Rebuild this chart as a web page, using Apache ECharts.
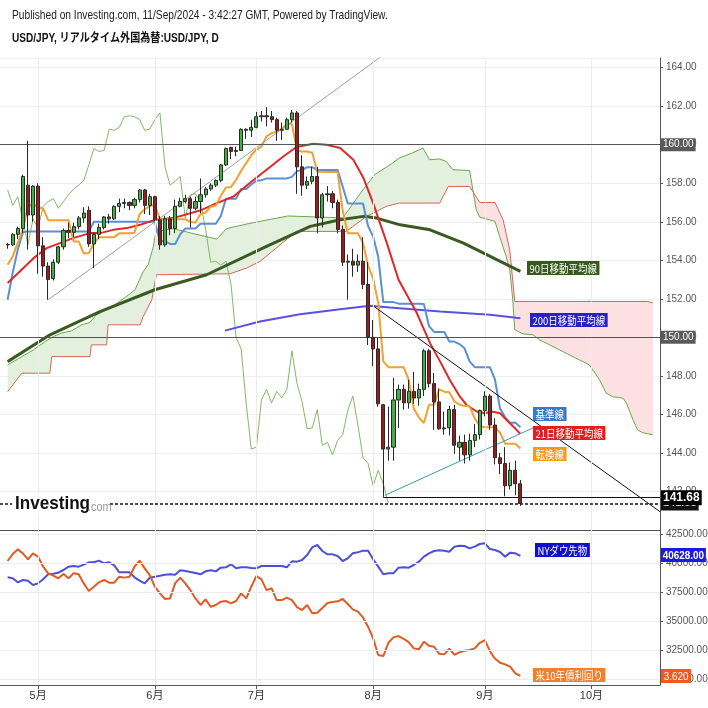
<!DOCTYPE html>
<html><head><meta charset="utf-8">
<script src="https://cdn.jsdelivr.net/npm/echarts/dist/echarts.min.js"></script>
<style>html,body{margin:0;padding:0;background:#fff}#c{width:708px;height:708px}</style>
</head><body><div id="c"></div>
<script>
// ---- categories (trading days, index k = 1..102) ----
const dates = ['04/23','04/24','04/25','04/26','04/29','04/30',
'05/01','05/02','05/03','05/06','05/07','05/08','05/09','05/10','05/13','05/14','05/15','05/16','05/17','05/20','05/21','05/22','05/23','05/24','05/27','05/28','05/29','05/30','05/31',
'06/03','06/04','06/05','06/06','06/07','06/10','06/11','06/12','06/13','06/14','06/17','06/18','06/19','06/20','06/21','06/24','06/25','06/26','06/27','06/28',
'07/01','07/02','07/03','07/04','07/05','07/08','07/09','07/10','07/11','07/12','07/15','07/16','07/17','07/18','07/19','07/22','07/23','07/24','07/25','07/26','07/29','07/30','07/31',
'08/01','08/02','08/05','08/06','08/07','08/08','08/09','08/12','08/13','08/14','08/15','08/16','08/19','08/20','08/21','08/22','08/23','08/26','08/27','08/28','08/29','08/30',
'09/02','09/03','09/04','09/05','09/06','09/09','09/10','09/11'];
const monthTicks = [7, 30, 50, 73, 95, 116];
const monthLabels = ['5月','6月','7月','8月','9月','10月'];
const priceTicksBottom = [30000, 32500, 35000, 37500, 40000, 42500];

// ---- USD/JPY daily [open, close, low, high] ----
const ohlc = [
[154.82,154.80,154.60,154.90],[154.80,155.35,154.75,155.40],[155.35,155.65,155.10,155.75],[155.65,158.35,155.40,158.45],
[157.90,156.35,154.55,160.20],[156.35,157.85,156.00,157.90],[157.85,154.75,153.30,158.00],[154.75,153.70,153.15,155.20],
[153.70,153.00,151.95,153.90],[153.05,153.90,152.95,154.05],[153.90,154.70,153.80,154.75],[154.70,155.55,154.55,155.65],
[155.55,155.45,155.15,155.95],[155.45,155.75,155.20,155.95],[155.75,156.20,155.60,156.30],[156.20,156.45,155.95,156.75],
[156.60,154.85,154.70,156.80],[154.85,155.35,153.60,155.45],[155.35,155.70,155.10,155.90],[155.70,156.25,155.60,156.30],
[156.25,156.15,155.90,156.40],[156.15,156.80,156.10,156.85],[156.80,156.95,156.50,157.20],[156.95,157.00,156.70,157.20],
[157.00,156.85,156.60,157.05],[156.85,157.15,156.70,157.25],[157.15,157.65,157.00,157.70],[157.65,156.85,156.40,157.70],
[156.85,157.30,156.35,157.45],[157.30,156.10,156.05,157.35],[156.10,154.80,154.55,156.30],[154.80,156.15,154.70,156.30],
[156.15,155.65,155.30,156.30],[155.65,156.80,155.40,157.15],[156.80,157.05,156.75,157.25],[157.05,157.20,156.95,157.40],
[157.20,156.70,155.70,157.30],[156.70,157.05,156.60,157.30],[157.05,157.40,156.45,158.25],[157.40,157.70,157.25,157.80],
[157.70,157.90,157.60,158.00],[157.90,158.15,157.80,158.20],[158.15,158.95,158.05,159.00],[158.95,159.80,158.90,159.85],
[159.85,159.65,159.25,159.90],[159.65,159.70,159.40,159.90],[159.70,160.80,159.70,160.85],[160.80,160.75,160.30,160.85],
[160.75,160.90,160.40,161.30],[160.90,161.45,160.85,161.70],[161.45,161.50,161.20,161.75],[161.50,161.45,160.95,161.95],
[161.45,161.30,161.15,161.75],[161.30,160.75,160.20,161.40],[160.75,160.80,160.25,161.15],[160.80,161.30,160.80,161.40],
[161.30,161.65,161.15,161.80],[161.65,158.85,157.45,161.75],[158.85,157.90,157.35,159.45],[157.90,158.10,157.70,158.35],
[158.10,158.35,157.95,158.85],[158.35,156.20,155.40,158.85],[156.20,157.40,155.70,157.50],[157.40,157.45,157.05,157.85],
[157.45,157.00,156.70,157.60],[157.00,155.60,155.40,157.15],[155.60,153.90,153.70,155.80],[153.90,153.95,151.95,154.30],
[153.95,153.75,153.15,154.60],[153.75,153.95,153.40,154.30],[153.95,152.75,152.50,155.20],[152.75,150.00,149.60,153.90],
[150.00,149.40,148.50,150.90],[149.40,146.55,146.40,150.00],[146.50,144.20,141.70,146.55],[144.20,144.30,143.60,146.40],
[144.30,146.75,143.60,147.90],[146.75,147.30,145.30,147.55],[147.30,146.60,146.25,147.55],[146.60,147.20,146.30,147.80],
[147.20,146.85,146.55,148.20],[146.85,147.30,146.45,147.60],[147.30,149.30,146.95,149.40],[149.30,147.60,147.40,149.40],
[147.60,146.65,145.20,148.15],[146.65,145.25,145.20,147.35],[145.25,145.30,144.95,146.15],[145.30,146.25,144.90,146.45],
[146.25,144.40,143.95,146.50],[144.30,144.55,143.60,144.90],[144.55,143.90,143.45,144.95],[143.90,144.65,143.60,145.00],
[144.65,144.95,144.30,145.50],[144.95,146.20,144.70,146.25],[146.20,146.95,145.90,147.20],[146.95,145.45,145.20,147.05],
[145.45,143.75,143.40,145.80],[143.75,143.45,142.90,144.00],[143.45,142.30,141.75,144.30],[142.30,143.10,142.10,143.50],
[143.10,142.40,141.80,143.60],[142.40,141.38,141.25,142.60]];

// ---- indicator lines ----
const tenkan = [153.77,154.2,154.9,155.58,156.79,156.93,156.75,156.68,156.08,156.08,156.08,156.08,156.08,154.98,154.98,154.35,154.38,154.88,155.2,155.2,
155.2,155.2,155.4,155.4,155.4,155.43,156.4,156.65,156.8,156.88,156.13,156.13,156.13,156.13,156.13,156.13,156.0,155.95,156.4,156.48,
156.78,156.83,157.35,157.78,157.8,158.18,158.65,159.05,159.45,159.75,159.9,160.43,160.6,160.68,160.83,161.08,161.08,159.7,159.65,159.65,
159.58,158.6,158.6,158.58,158.58,158.58,156.58,155.4,155.4,155.4,154.9,153.73,153.05,151.78,148.75,148.45,148.45,148.45,148.45,147.8,
146.3,145.85,145.55,146.5,146.5,147.3,147.18,147.15,146.68,146.5,146.43,146.43,145.8,145.4,145.33,145.33,145.33,145.05,144.48,144.48,
144.48,144.23];
const kijun = [151.95,153.35,154.55,155.45,155.5,155.5,155.5,155.5,155.5,155.5,155.5,155.5,155.5,155.5,155.5,155.5,155.5,156.0,156.0,156.0,
156.0,156.0,156.0,156.0,156.0,156.0,156.0,156.0,156.0,156.0,155.0,155.0,154.85,154.85,155.35,155.65,155.65,155.65,155.9,155.9,
155.9,155.9,156.3,157.2,157.2,157.2,157.7,157.7,157.93,158.13,158.15,158.25,158.25,158.25,158.25,158.25,158.33,158.63,158.68,158.83,
158.83,158.68,158.68,158.68,158.68,158.68,157.83,156.95,156.95,156.95,156.95,155.78,155.23,154.18,151.83,151.83,151.83,151.75,151.75,151.75,
151.75,151.75,151.73,150.58,150.28,150.28,150.28,149.78,149.78,149.65,149.43,148.75,148.45,148.45,148.45,148.45,147.8,146.3,145.85,145.55,
145.58,145.33];
const ma21 = [[1,152.82],[3.4,153.42],[6.1,154.11],[8.7,154.63],[11.3,154.89],[13.9,155.15],[17.2,155.41],[19.2,155.41],[21.8,155.58],[24.5,155.67],
[27.1,155.84],[30,156.1],[33.6,156.19],[38.9,156.58],[42.2,156.97],[45.5,157.31],[48.7,158.01],[52,158.7],[55.3,159.39],[57.9,159.88],
[61.2,160.05],[63.8,160.0],[66.5,159.83],[69.1,159.22],[71.1,158.27],[73,156.97],[75.7,154.89],[78,152.99],[81.6,151.26],[84.2,149.7],
[86.2,148.74],[88.1,147.79],[90.1,146.92],[91.4,146.49],[93.4,146.15],[95,146.06],[96.3,146.15],[98,146.06],[99.3,145.71],[100.6,145.37],[102,144.99]];
const ma90 = [[1,148.74],[9.35,150.13],[19.2,151.34],[30,152.47],[40.2,153.25],[52,154.72],[60.6,155.76],[66.5,156.1],[71.1,156.28],
[73.7,156.19],[78.3,155.84],[84.2,155.58],[90.8,154.89],[102,153.42]];
const ma200 = [[43.8,150.35],[50.7,150.82],[58.6,151.2],[66.5,151.46],[72.4,151.64],[76.3,151.55],[86.2,151.34],[96,151.17],[102,150.99]];
const spanA = [[1,148.57],[3.8,149.0],[6.1,149.35],[8.4,149.78],[10,150.04],[11.6,150.22],[13.6,150.34],[15.6,150.65],[17.2,150.77],[18.5,151.17],
[20.5,151.43],[22.1,151.69],[24.4,152.12],[26.1,152.47],[27.7,153.42],[28.7,153.77],[29.7,154.72],[30.2,155.5],[33.6,155.64],[39.9,155.24],
[42.2,155.1],[44.1,155.64],[48.4,155.9],[56.2,156.3],[67,156.2],[71,157.66],[73.3,158.44],[76.9,159.06],[78.2,159.32],[80.8,159.58],
[82.8,159.83],[84.1,159.22],[86.1,159.26],[87.4,159.13],[88.7,158.7],[92,158.66],[92.72,157.53],[93.3,156.62],[94,156.24],[97,156.02],
[97.9,155.24],[99.2,154.2],[99.9,153.51],[100.5,151.95],[100.9,150.39],[102.5,150.18],[104.5,150.13],[105.8,149.87],[109.7,149.35],[115.6,148.57],
[117.6,147.79],[118.9,147.1],[120.2,146.92],[122.2,146.84],[122.9,146.58],[124.2,145.71],[125.1,145.19],[126.1,145.05],[128.1,144.94]];
const spanB = [[1,147.18],[3.8,148.14],[9.3,148.14],[9.7,149.0],[17.2,149.0],[17.5,149.61],[20.5,149.61],[20.8,150.65],[27.1,150.65],[27.7,151.08],
[29.4,151.95],[30.3,153.25],[44.8,153.3],[48.1,153.6],[50.7,153.94],[57.9,155.5],[67.7,155.5],[71.7,156.28],[75.6,156.8],[78.2,156.97],
[86.1,156.97],[87.8,157.83],[92,157.83],[92.72,157.53],[94,157.0],[97,157.0],[98.6,156.1],[99.9,154.55],[100.9,151.86],[127.1,151.86],[128.1,151.79]];
const cloudCross = 92.72;

// ---- drawn annotations (price-space endpoints) ----
const trendUp = [[9,151.95],[76,164.85]];
const trendDown = [[72.97,151.64],[129.5,140.95]];
const trendTeal = [[75.3,141.8],[105,145.36]];
const levelLines = [160, 150];
const aug5Low = 141.68;
const lastPrice = 141.38;

// ---- lower panel ----
const dow = [38778,38692,38346,38548,38490,38115,38259,38605,39038,39095,39182,39412,39701,39758,39701,39874,40076,40076,40220,39989,
40076,39816,39211,39211,39211,38778,38490,38259,38749,38836,38922,39009,39038,39009,39384,39326,39240,39153,39038,39297,
39384,39297,39614,39643,39902,39557,39643,39643,39585,39557,39758,39758,39758,39758,39758,39643,40162,40133,40277,40710,
41373,41575,41056,40767,40767,40623,40191,40421,40854,40940,41085,41085,40335,39701,39038,39124,39124,39614,39643,39614,
39845,40133,40566,40854,41056,41113,41085,40998,41430,41517,41488,41286,41430,41661,41719,41229,41142,40969,40566,40912,
40854,40628];
const us10y = [4.598,4.657,4.697,4.663,4.612,4.663,4.635,4.549,4.493,4.473,4.450,4.487,4.450,4.493,4.484,4.407,4.342,4.379,4.416,4.436,
4.413,4.413,4.464,4.456,4.464,4.549,4.601,4.535,4.478,4.379,4.322,4.274,4.279,4.407,4.456,4.407,4.350,4.279,4.223,4.271,
4.208,4.223,4.251,4.257,4.237,4.257,4.322,4.279,4.379,4.470,4.441,4.350,4.365,4.265,4.265,4.285,4.265,4.205,4.180,4.223,
4.152,4.157,4.197,4.240,4.248,4.254,4.274,4.231,4.186,4.166,4.117,4.038,3.938,3.796,3.788,3.901,3.947,3.958,3.935,3.907,
3.853,3.845,3.910,3.876,3.867,3.808,3.802,3.850,3.799,3.819,3.833,3.839,3.853,3.901,3.924,3.830,3.765,3.731,3.717,3.697,
3.640,3.620];

// ---------------------------------------------------------------
const F_N = '"Liberation Sans Narrow","Liberation Sans",Arial,"Noto Sans CJK JP",sans-serif';
const F_J = '"Noto Sans CJK JP","Noto Sans",sans-serif';
const byIdx = arr => arr.map((v,i)=>[i+1, v]);
const closes = ohlc.map(d=>d[1]);
const chikou = closes.slice(26).map((c,i)=>[i+1, c]);

function lineS(data, color, width, z, xi, yi) {
  return {type:'line', xAxisIndex:xi||0, yAxisIndex:yi||0, data, showSymbol:false, symbol:'none',
    lineStyle:{color, width}, z, silent:true, animation:false};
}
function poly(points, color) {
  return {type:'custom', xAxisIndex:0, yAxisIndex:0, z:1, silent:true, animation:false, data:[[0,150]],
    renderItem:(p, api)=>({type:'polygon', shape:{points: points.map(q=>api.coord(q))}, style:{fill:color}})};
}
const greenPoly = spanA.filter(p=>p[0]<=cloudCross).concat(spanB.filter(p=>p[0]<=cloudCross).reverse());
const redPoly = spanB.filter(p=>p[0]>=cloudCross).concat(spanA.filter(p=>p[0]>=cloudCross).reverse());

const ML = {symbol:'none', silent:true, animation:false};
function box(text, x, y, bg, font, pad, sx) {
  return {type:'text', x, y, z:100, scaleX: sx||0.86, style:{text, fill:'#fff', backgroundColor:bg, padding:pad||[2,3,1,3], font: font||('11px '+F_J)}};
}

const chart = echarts.init(document.getElementById('c'));
chart.setOption({
  animation:false,
  backgroundColor:'#fff',
  grid:[{left:0, width:660, top:58, height:472, containLabel:false, outerBoundsMode:'none'},
        {left:0, width:660, top:530, height:155, containLabel:false, outerBoundsMode:'none'}],
  xAxis:[
    {type:'value', gridIndex:0, min:-0.5, max:129.5, axisLine:{show:true, onZero:false, lineStyle:{color:'#555'}}, axisTick:{show:false}, axisLabel:{show:false}, splitLine:{show:false}},
    {type:'value', gridIndex:1, min:-0.5, max:129.5, axisLine:{show:true, onZero:false, lineStyle:{color:'#555'}},
     axisTick:{show:true, customValues:monthTicks, length:4, lineStyle:{color:'#555'}},
     axisLabel:{customValues:monthTicks, formatter:v=>monthLabels[monthTicks.indexOf(Math.round(v))]||'', color:'#333', fontSize:11, fontFamily:F_N, margin:5},
     splitLine:{show:false}}
  ],
  yAxis:[
    {type:'value', gridIndex:0, position:'right', min:140, max:164.5, interval:2,
     axisLine:{show:true, onZero:false, lineStyle:{color:'#555'}}, axisTick:{show:true, length:3, lineStyle:{color:'#555'}},
     axisLabel:{formatter:v=>v.toFixed(2), color:'#555', fontSize:10, fontFamily:F_N, showMinLabel:false, showMaxLabel:false, margin:6},
     splitLine:{lineStyle:{color:'#efefef'}}},
    {type:'value', gridIndex:1, position:'right', min:29464, max:42872,
     axisLine:{show:true, onZero:false, lineStyle:{color:'#555'}}, axisTick:{show:true, length:3, customValues:priceTicksBottom, lineStyle:{color:'#555'}},
     axisLabel:{customValues:priceTicksBottom, formatter:v=>v.toFixed(2), color:'#555', fontSize:10, fontFamily:F_N, margin:6},
     splitLine:{show:false}},
    {type:'value', gridIndex:1, position:'right', min:3.541, max:4.862, show:false}
  ],
  graphic:[
    {type:'text', x:12, y:10, z:100, scaleX:0.85, style:{text:'Published on Investing.com, 11/Sep/2024 - 3:42:27 GMT, Powered by TradingView.', font:'12px '+F_N, fill:'#222'}},
    {type:'text', x:12, y:33, z:100, scaleX:0.84, style:{text:'USD/JPY, リアルタイム外国為替:USD/JPY, D', font:'bold 12px '+F_N, fill:'#111'}},
    {type:'rect', shape:{x:12, y:494, width:98, height:22}, z:90, style:{fill:'#fff'}},
    {type:'text', x:15, y:494, z:100, scaleX:0.9, style:{text:'Investing', font:'bold 19px '+F_N, fill:'#111'}},
    {type:'text', x:88, y:502, z:100, scaleX:0.9, style:{text:'.com', font:'12px '+F_N, fill:'#999'}},
    box('90日移動平均線', 527, 261, '#355a1e'),
    box('200日移動平均線', 530, 313, '#2a20c8'),
    box('基準線', 533, 407, '#3a78c9'),
    box('21日移動平均線', 533, 426, '#e02020'),
    box('転換線', 533, 447, '#f39a1e'),
    box('NYダウ先物', 535, 543, '#1010c8'),
    box('米10年債利回り', 533, 668, '#f08030'),
    box(dow[dow.length-1].toFixed(2), 661, 548, '#1a1ae0', 'bold 11px '+F_N, [2,2,1,2], 0.9),
    box(us10y[us10y.length-1].toFixed(3), 661, 669, '#f05a20', '11px '+F_N, [2,3,1,3], 0.9)
  ],
  series:[
    {type:'line', xAxisIndex:0, yAxisIndex:0, data:[[-0.5,150]], showSymbol:false, z:0, silent:true,
     markLine:Object.assign({}, ML, {label:{show:false}, lineStyle:{color:'#ececec', type:'solid', width:1}, data: monthTicks.map(v=>({xAxis:v}))})},
    {type:'line', xAxisIndex:1, yAxisIndex:1, data:[[-0.5,35000]], showSymbol:false, z:0, silent:true,
     markLine:Object.assign({}, ML, {label:{show:false}, lineStyle:{color:'#ececec', type:'solid', width:1},
       data: monthTicks.map(v=>({xAxis:v})).concat(priceTicksBottom.map(v=>({yAxis:v})))})},
    poly(greenPoly, '#e3f0de'),
    poly(redPoly, '#fde0e1'),
    lineS(spanA, '#6aa84f', 1, 2),
    lineS(spanB, '#d2665a', 1, 2),
    lineS(chikou, '#84b864', 1, 2),
    lineS(ma90, '#3a5a22', 3, 3),
    lineS(ma200, '#5a52dc', 2, 3),
    lineS(byIdx(kijun), '#5b8fd6', 2, 3),
    lineS(ma21, '#e02828', 2, 3),
    lineS(byIdx(tenkan), '#f2a030', 2, 3),
    lineS(trendUp, '#a0a0a0', 1, 4),
    lineS(trendDown, '#111', 1, 4),
    lineS(trendTeal, '#3a9e9e', 1, 4),
    {type:'candlestick', xAxisIndex:0, yAxisIndex:0, z:5, silent:true, animation:false,
     data: ohlc.map((d,i)=>[i+1, d[0], d[1], d[2], d[3]]), encode:{x:0, y:[1,2,3,4]}, barWidth:3.6,
     itemStyle:{color:'#3fb043', color0:'#9b1c1c', borderColor:'#2a2a2a', borderColor0:'#2a2a2a', borderWidth:1},
     markLine:Object.assign({}, ML, {lineStyle:{color:'#555', type:'solid', width:1},
       label:{show:true, position:'end', distance:1, color:'#fff', backgroundColor:'#5a5a5a', padding:[2,2,1,2], fontSize:10, fontFamily:F_N, formatter:p=>p.value.toFixed(2)},
       data: levelLines.map(v=>({yAxis:v}))})},
    {type:'line', xAxisIndex:0, yAxisIndex:0, data:[[-0.5,150]], showSymbol:false, z:6, silent:true,
     markLine:Object.assign({}, ML, {lineStyle:{color:'#111', type:[3,2], width:1.5},
       label:{show:true, position:'end', distance:1, color:'#fff', backgroundColor:'#111', padding:[2,2,1,2], fontSize:11, fontWeight:'bold', fontFamily:F_N, formatter:p=>p.value.toFixed(2)},
       data:[{yAxis:lastPrice}]})},
    {type:'line', xAxisIndex:0, yAxisIndex:0, data:[[-0.5,150]], showSymbol:false, z:7, silent:true,
     markLine:Object.assign({}, ML, {lineStyle:{color:'#111', type:'solid', width:1},
       label:{show:true, position:'end', distance:1, color:'#fff', backgroundColor:'#000', padding:[2,2,1,2], fontSize:12, fontWeight:'bold', fontFamily:F_N, formatter:()=>aug5Low.toFixed(2)},
       data:[[{coord:[75, aug5Low]}, {coord:[129.5, aug5Low]}]]})},
    lineS(byIdx(dow), '#4f4fd6', 2, 3, 1, 1),
    lineS(byIdx(us10y), '#e05a24', 2, 3, 1, 2)
  ]
});
</script>
</body></html>
